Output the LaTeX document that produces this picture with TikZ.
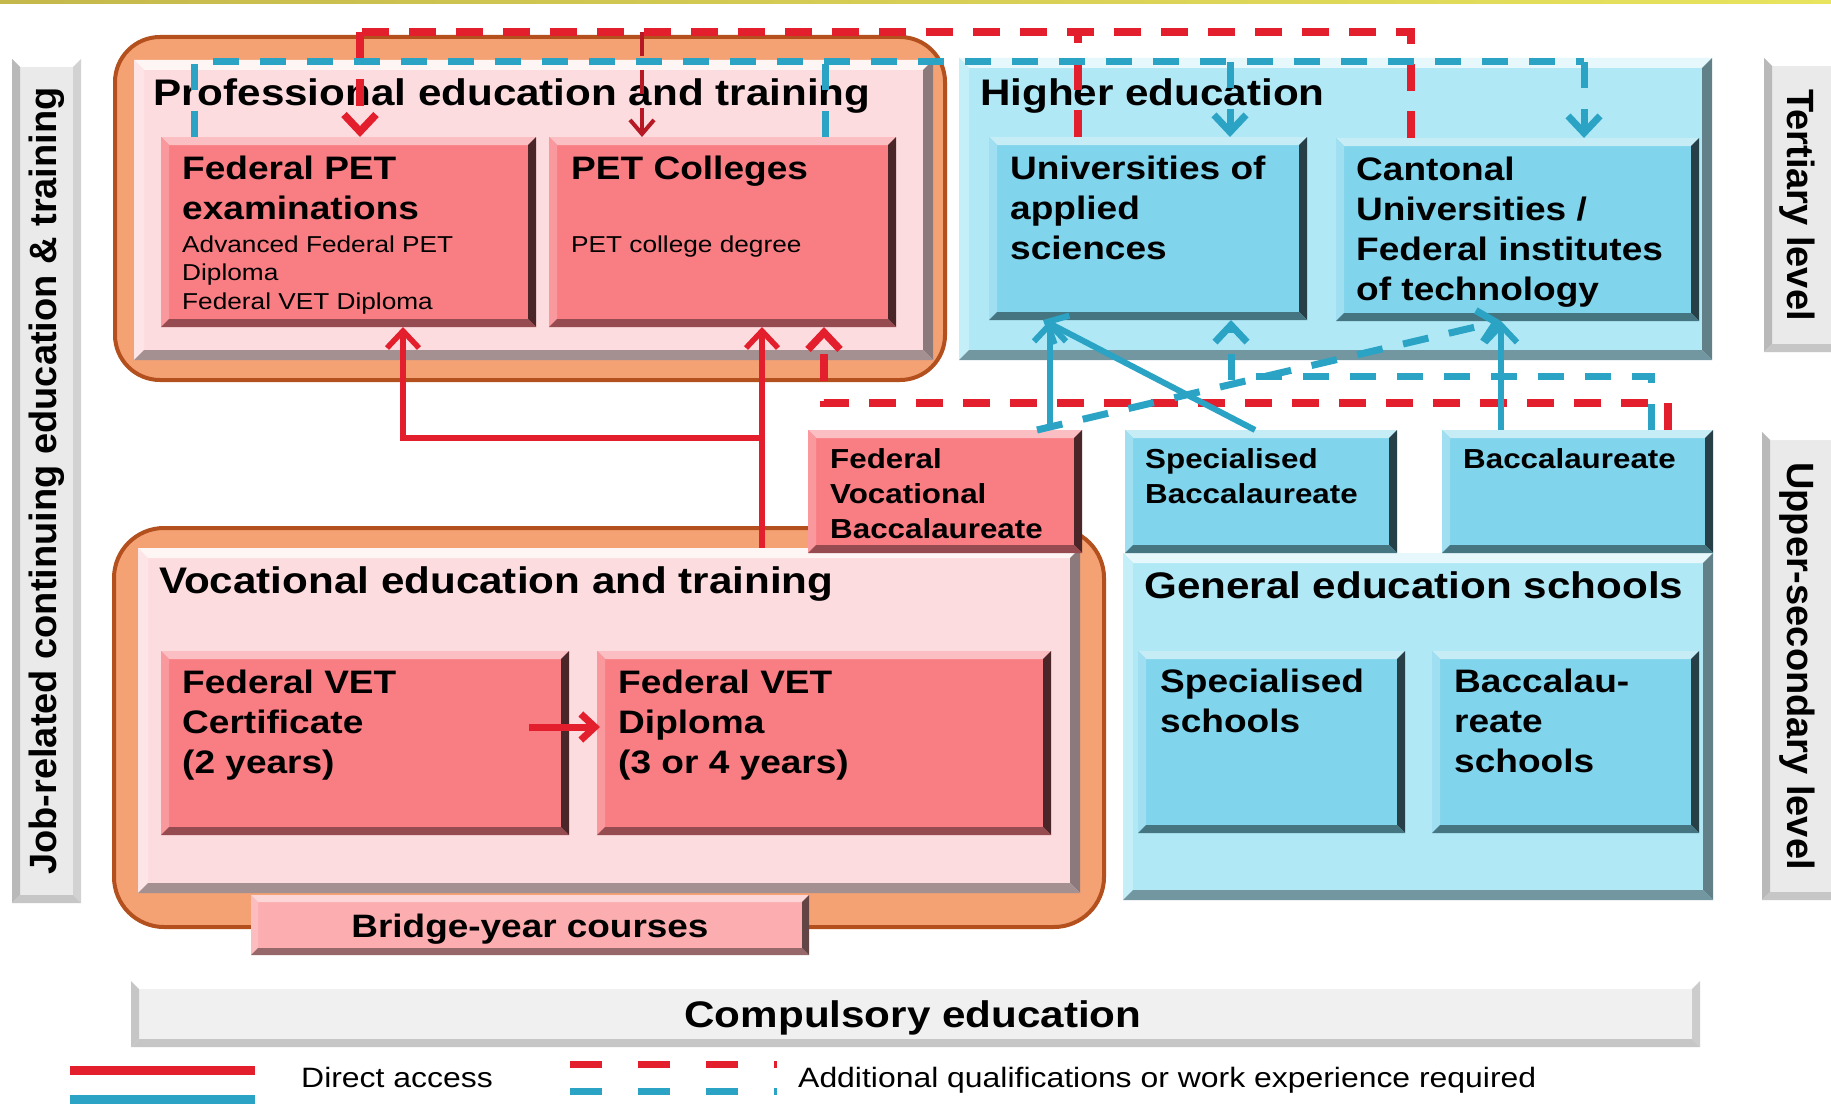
\documentclass[tikz,border=0pt]{standalone}
\usepackage{fontspec}
\newfontfamily\sw[FakeStretch=1.14]{Liberation Sans}
\newfontfamily\sn{Liberation Sans}
\usetikzlibrary{arrows.meta,fit,calc}
\definecolor{orgfill}{HTML}{F4A273}
\definecolor{orgdraw}{HTML}{B4501E}
\definecolor{pinkin}{HTML}{FDDCDF}
\definecolor{redbox}{HTML}{F87E84}
\definecolor{bridgec}{HTML}{FBADB0}
\definecolor{cyanin}{HTML}{B0E8F6}
\definecolor{cyanbox}{HTML}{80D4EC}
\definecolor{redline}{HTML}{E31E2D}
\definecolor{blueline}{HTML}{2AA3C4}
\definecolor{labgray}{HTML}{EAEAEA}
\definecolor{yelA}{HTML}{C4B84C}
\definecolor{yelB}{HTML}{E8E45E}
\newcommand\fsec{\sw\bfseries\fontsize{37}{44}\selectfont}
\newcommand\ftit{\sw\bfseries\fontsize{32.5}{40}\selectfont}
\newcommand\fsmall{\sw\bfseries\fontsize{27.5}{35}\selectfont}
\newcommand\fsubt{\sw\fontsize{23}{28.7}\selectfont}
\newcommand\fleg{\sw\fontsize{28}{34}\selectfont}
\newcommand\fside{\sn\bfseries\fontsize{38}{44}\selectfont}
% bevel: node, width, top, left, right, bottom colours
\newcommand\bevel[6]{%
 \fill[#3] (#1.north west) -- (#1.north east) -- ($(#1.north east)+(-#2,#2)$) -- ($(#1.north west)+(#2,#2)$) -- cycle;
 \fill[#4] (#1.north west) -- ($(#1.north west)+(#2,#2)$) -- ($(#1.south west)+(#2,-#2)$) -- (#1.south west) -- cycle;
 \fill[#5] (#1.north east) -- ($(#1.north east)+(-#2,#2)$) -- ($(#1.south east)+(-#2,-#2)$) -- (#1.south east) -- cycle;
 \fill[#6] (#1.south west) -- ($(#1.south west)+(#2,-#2)$) -- ($(#1.south east)+(-#2,-#2)$) -- (#1.south east) -- cycle;}
\newcommand\redbev[1]{\bevel{#1}{8}{redbox!50!white}{redbox!80!white}{redbox!30!black}{redbox!60!black}}
\newcommand\cyanbev[1]{\bevel{#1}{8}{cyanbox!45!white}{cyanbox!75!white}{cyanbox!30!black}{cyanbox!55!black}}
\newcommand\conbev[2]{\bevel{#1}{10}{#2!30!white}{#2!75!white}{#2!55!black}{#2!65!black}}
\newcommand\graybev[1]{\bevel{#1}{8}{white}{gray!55}{gray!35}{gray!45}}
\tikzset{
 area/.style={inner sep=0pt, outer sep=0pt},
 orgbox/.style={area, rounded corners=45pt, fill=orgfill, draw=orgdraw, line width=4pt},
 txt/.style={anchor=base west, inner sep=0pt, align=left},
 rsolid/.style={draw=redline, line width=5.5pt},
 bsolid/.style={draw=blueline, line width=6pt},
 rdash/.style={draw=redline, line width=7.5pt, dash pattern=on 27pt off 20pt},
 bdash/.style={draw=blueline, line width=7pt, dash pattern=on 26pt off 21pt},
 rthin/.style={draw=redline!80!black, line width=4pt, dash pattern=on 24pt off 14pt},
 barbtip/.style={-{Straight Barb[length=17pt,width=32pt]}},
}
\begin{document}
\begin{tikzpicture}[x=1pt,y=-1pt]
\clip (0,0) rectangle (1831,1108);
\fill[white] (0,0) rectangle (1831,1108);
\shade[left color=yelA, right color=yelB] (0,0) rectangle (1831,4);
% side labels
\node[area, fit={(12,59)(81,903)}, fill=labgray] (labL) {};
\graybev{labL}
\node[area, fit={(1764,58)(1845,352)}, fill=labgray] (labT) {};
\graybev{labT}
\node[area, fit={(1762,432)(1845,900)}, fill=labgray] (labU) {};
\graybev{labU}
\node[font=\fside, rotate=90, inner sep=0pt] (tL) at (labL.center) {Job-related continuing education \& training};
\node[font=\fside, rotate=-90, inner sep=0pt] (tT) at (1797,205) {Tertiary level};
\node[font=\fside, rotate=-90, inner sep=0pt] (tU) at (1797,666) {Upper-secondary level};
% PET
\node[orgbox, fit={(115,37)(945,380)}] (pet) {};
\node[area, fit={(134,60)(933,360)}, fill=pinkin] (petin) {};
\conbev{petin}{pinkin}
\node[area, fit={(161,137)(536,327)}, fill=redbox] (fpet) {};
\redbev{fpet}
\node[area, fit={(549,137)(896,327)}, fill=redbox] (petc) {};
\redbev{petc}
% Higher education
\node[area, fit={(959,58)(1712,360)}, fill=cyanin] (he) {};
\conbev{he}{cyanin}
\node[area, fit={(989,137)(1307,320)}, fill=cyanbox] (uas) {};
\cyanbev{uas}
\node[area, fit={(1336,138)(1699,321)}, fill=cyanbox] (cant) {};
\cyanbev{cant}
% VET
\node[orgbox, rounded corners=50pt, fit={(114,528)(1104,927)}] (vet) {};
\node[area, fit={(138,548)(1080,893)}, fill=pinkin] (vetin) {};
\conbev{vetin}{pinkin}
\node[area, fit={(161,651)(569,835)}, fill=redbox] (vcert) {};
\redbev{vcert}
\node[area, fit={(597,651)(1051,835)}, fill=redbox] (vdip) {};
\redbev{vdip}
\node[area, fit={(251,895)(809,955)}, fill=bridgec] (bridge) {};
\bevel{bridge}{7}{bridgec!50!white}{bridgec!80!white}{bridgec!40!black}{bridgec!60!black}
\node[area, fit={(808,430)(1082,553)}, fill=redbox] (fvb) {};
\redbev{fvb}
% General education
\node[area, fit={(1123,553)(1713,900)}, fill=cyanin] (ges) {};
\conbev{ges}{cyanin}
\node[area, fit={(1138,651)(1405,833)}, fill=cyanbox] (spec) {};
\cyanbev{spec}
\node[area, fit={(1432,651)(1699,833)}, fill=cyanbox] (bsch) {};
\cyanbev{bsch}
\node[area, fit={(1125,430)(1397,553)}, fill=cyanbox] (sbac) {};
\cyanbev{sbac}
\node[area, fit={(1442,430)(1713,553)}, fill=cyanbox] (bac) {};
\cyanbev{bac}
% compulsory
\node[area, fit={(131,981)(1700,1047)}, fill=gray!12] (comp) {};
\bevel{comp}{8}{white}{gray!45}{gray!40}{gray!45}
% texts (multi-line nodes: base = last line)
\node[txt, font=\fsec] (tpet) at (153,105) {Professional education and training};
\node[txt, font=\ftit] (tfpet) at (182,219) {Federal PET\\examinations};
\node[txt, font=\fsubt] (tfpets) at (182,309.4) {Advanced Federal PET\\Diploma\\Federal VET Diploma};
\node[txt, font=\ftit] (tpetc) at (571,179) {PET Colleges};
\node[txt, font=\fsubt] (tpetcs) at (571,252) {PET college degree};
\node[txt, font=\fsec] (the) at (980,105) {Higher education};
\node[txt, font=\ftit] (tuas) at (1010,259) {Universities of\\applied\\sciences};
\node[txt, font=\ftit] (tcant) at (1356,300) {Cantonal\\Universities /\\Federal institutes\\of technology};
\node[txt, font=\fsmall] (tfvb) at (830,538) {Federal\\Vocational\\Baccalaureate};
\node[txt, font=\fsmall] (tsbac) at (1145,503) {Specialised\\Baccalaureate};
\node[txt, font=\fsmall] (tbac) at (1463,468) {Baccalaureate};
\node[txt, font=\fsec] (tvet) at (159,593) {Vocational education and training};
\node[txt, font=\ftit] (tvcert) at (182,773) {Federal VET\\Certificate\\(2 years)};
\node[txt, font=\ftit] (tvdip) at (618,773) {Federal VET\\Diploma\\(3 or 4 years)};
\node[txt, font=\fsec] (tges) at (1144,598) {General education schools};
\node[txt, font=\ftit] (tspec) at (1160,732) {Specialised\\schools};
\node[txt, font=\ftit] (tbsch) at (1454,772) {Baccalau-\\reate\\schools};
\node[anchor=base, inner sep=0pt, font=\sw\bfseries\fontsize{32.4}{38}\selectfont] (tbridge) at (530,937) {Bridge-year courses};
\node[anchor=base, inner sep=0pt, font=\fsec] (tcomp) at (913,1027) {Compulsory education};
% legend
\coordinate (l1a) at (70,1070); \coordinate (l1b) at (255,1070);
\coordinate (l2a) at (70,1099); \coordinate (l2b) at (255,1099);
\coordinate (l3a) at (570,1064); \coordinate (l3b) at (777,1064);
\coordinate (l4a) at (570,1091); \coordinate (l4b) at (777,1091);
\draw[redline, line width=9pt] (l1a) -- (l1b);
\draw[blueline, line width=9pt] (l2a) -- (l2b);
\draw[redline, line width=7pt, dash pattern=on 32pt off 36pt] (l3a) -- (l3b);
\draw[blueline, line width=7pt, dash pattern=on 32pt off 36pt] (l4a) -- (l4b);
\node[txt, font=\fleg] (tleg1) at (301,1087) {Direct access};
\node[txt, font=\fleg] (tleg2) at (798,1087) {Additional qualifications or work experience required};
% ---- connectors ----
% red direct access
\coordinate (xr1) at (762,0);
\coordinate (rj) at (762,438);
\coordinate (xr2) at (403,0);
\draw[rsolid, barbtip] (vetin.north -| xr1) -- (petc.south -| xr1);
\draw[rsolid, barbtip] (rj) -| (fpet.south -| xr2);
\draw[rsolid, line width=7pt, -{Straight Barb[length=14pt,width=26pt]}] ($(vcert.east)+(-40,-16)$) -- ($(vdip.west)+(3,-16)$);
% red dashed, top
\coordinate (rc1) at (1411,32); \coordinate (rc2) at (360,32);
\coordinate (rc3) at (1078,32); \coordinate (rc4) at (642,32);
\draw[rdash] (cant.north -| rc1) -- (rc1) -- (rc2);
\draw[rdash, barbtip] (rc2) -- (fpet.north -| rc2);
\draw[rdash] (uas.north -| rc3) -- (rc3);
\draw[rthin, -{Straight Barb[length=14pt,width=24pt]}] (rc4) -- (petc.north -| rc4);
% red dashed, lower
\coordinate (rb1) at (1668,403); \coordinate (rb2) at (824,403);
\draw[rdash, barbtip] (bac.north -| rb1) -- (rb1) -- (rb2) -- (petc.south -| rb2);
% blue dashed, top
\coordinate (bt1) at (194,62); \coordinate (bt2) at (1584,62);
\coordinate (bt3) at (825,62); \coordinate (bt4) at (1230,62);
\draw[bdash] (fpet.north -| bt1) -- (bt1) -- (bt2);
\draw[bdash, barbtip] (bt2) -- (cant.north -| bt2);
\draw[bdash] (petc.north -| bt3) -- (bt3);
\draw[bdash, barbtip] (bt4) -- (uas.north -| bt4);
% blue dashed, lower
\coordinate (bb1) at (1651,376); \coordinate (bb2) at (1231,376);
\draw[bdash, barbtip] (bac.north -| bb1) -- (bb1) -- (bb2) -- (uas.south -| bb2);
\draw[bdash, barbtip] ($(fvb.north east)+(-45,0)$) -- ($(cant.south west)+(165,0)$);
% blue direct access
\coordinate (bs1) at (1050,0); \coordinate (bs2) at (1501,0);
\draw[bsolid, barbtip] (fvb.north -| bs1) -- (uas.south -| bs1);
\draw[bsolid, barbtip] ($(sbac.north west)+(130,0)$) -- ($(uas.south west)+(54,0)$);
\draw[bsolid, barbtip] (bac.north -| bs2) -- (cant.south -| bs2);
\end{tikzpicture}
\end{document}
